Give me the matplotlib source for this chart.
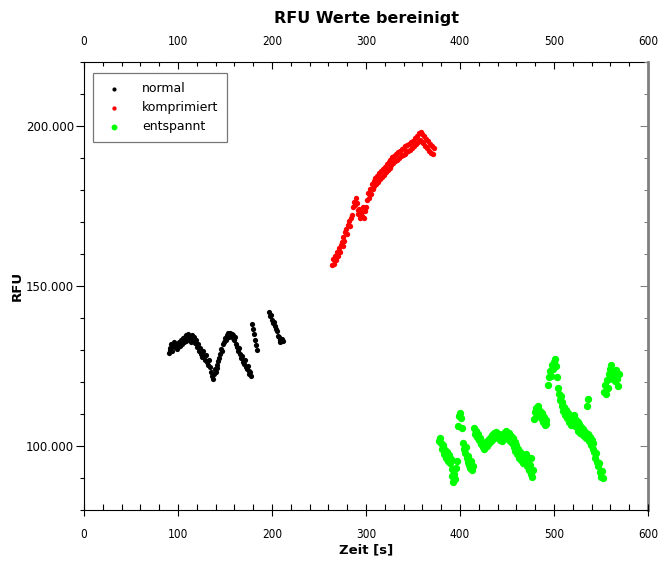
import matplotlib
matplotlib.use("Agg")
import matplotlib.pyplot as plt
from matplotlib.ticker import MultipleLocator, FuncFormatter

# RFU values (in thousands)
normal_t = [90, 91, 92, 93, 94, 95, 96, 97, 98, 99, 100, 101, 102, 103, 104, 105, 106, 107, 108, 109,
            110, 111, 112, 113, 114, 115, 116, 117, 118, 119, 120, 121, 122, 123, 124, 125, 126, 127, 128, 129,
            130, 131, 132, 133, 134, 135, 136, 137, 138, 139, 140, 141, 142, 143, 144, 145, 146, 147, 148, 149,
            150, 151, 152, 153, 154, 155, 156, 157, 158, 159, 160, 161, 162, 163, 164, 165, 166, 167, 168, 169,
            170, 171, 172, 173, 174, 175, 176, 177, 178,
            179, 180, 181, 182, 183, 184,
            197, 198, 199, 200, 201, 202, 203, 204, 205, 206, 207, 208, 209, 210, 211, 212]
normal_rfu = [129.0, 130.5, 130.0, 131.8, 129.6, 131.2, 132.4, 130.8, 131.5, 130.2, 131.0, 132.6, 131.4, 133.2,
              132.0, 133.8, 132.5, 134.0, 132.8, 134.6, 133.2, 135.0, 133.6, 134.2, 132.6, 134.8, 133.4, 134.0,
              132.2, 133.0, 131.0, 131.8, 129.8, 130.6, 128.6, 129.4, 127.8, 129.8, 128.0, 127.0, 128.4, 126.2,
              125.4, 126.8, 124.6, 123.2, 122.0, 121.0, 122.6, 124.0, 123.0, 125.2, 124.4, 126.6, 127.6, 128.8,
              130.4, 129.6, 131.8, 132.6, 133.8, 133.0, 134.6, 135.2, 134.0, 135.4, 134.6, 135.0, 133.8, 134.8,
              133.2, 134.0, 132.0, 131.0, 129.8, 130.6, 128.6, 127.6, 128.2, 126.4, 125.6, 126.8, 124.8, 124.0,
              125.0, 123.4, 122.4, 123.0, 121.8,
              138.0, 136.5, 135.0, 133.0, 131.5, 130.0,
              142.0, 140.5, 141.0, 139.5, 138.5, 138.8, 137.5, 136.5, 135.8, 134.5, 134.0, 133.0, 132.4, 132.8,
              133.4, 132.8]

kompr_t = [264, 265, 266, 267, 268, 269, 270, 271, 272, 273, 274, 275, 276, 277, 278, 279, 280, 281, 282, 283,
           284, 285, 286, 287, 288, 289, 290, 291, 292, 293, 294, 295, 296, 297, 298, 299, 300, 301, 302, 303,
           304, 305, 306, 307, 308, 309, 310, 311, 312, 313, 314, 315, 316, 317, 318, 319, 320, 321, 322, 323,
           324, 325, 326, 327, 328, 329, 330, 331, 332, 333, 334, 335, 336, 337, 338, 339, 340, 341, 342, 343,
           344, 345, 346, 347, 348, 349, 350, 351, 352, 353, 354, 355, 356, 357, 358, 359, 360, 361, 362, 363,
           364, 365, 366, 367, 368, 369, 370, 371, 372]
kompr_rfu = [156.5, 158.4, 157.0, 159.4, 158.2, 160.6, 159.4, 162.0, 160.6, 162.8, 163.8, 162.4, 165.4, 164.0,
             166.8, 167.8, 166.4, 169.0, 170.2, 168.6, 171.4, 172.2, 174.6, 176.4, 175.2, 177.6, 176.0, 173.8,
             172.6, 174.2, 171.4, 173.0, 172.0, 174.6, 171.2, 173.4, 174.6, 177.0, 179.0, 177.4, 180.4, 178.8,
             181.8, 180.2, 182.8, 181.2, 183.6, 181.8, 184.4, 182.6, 185.2, 183.4, 185.8, 184.2, 186.6, 184.8,
             187.2, 185.6, 188.0, 186.2, 188.6, 187.0, 189.4, 187.8, 190.2, 188.4, 190.6, 189.0, 191.2, 189.4,
             191.8, 190.0, 192.2, 190.6, 192.8, 191.0, 193.2, 191.4, 193.6, 191.8, 194.0, 192.2, 194.4, 192.6,
             195.0, 193.2, 195.4, 193.8, 196.4, 194.4, 197.0, 195.0, 197.8, 195.6, 198.2, 195.2, 197.6, 194.6,
             196.8, 193.8, 196.0, 193.0, 195.2, 192.2, 194.4, 191.6, 193.8, 191.2, 193.2]

entsp_t = [378, 379, 380, 381, 382, 383, 384, 385, 386, 387, 388, 389, 390, 391, 392, 393, 394, 395, 396, 397,
           398, 399, 400, 401, 402, 403, 404, 405, 406, 407, 408, 409, 410, 411, 412, 413, 414,
           415, 416, 417, 418, 419, 420, 421, 422, 423, 424, 425, 426, 427, 428, 429, 430, 431, 432, 433, 434,
           435, 436, 437, 438, 439, 440, 441, 442, 443, 444, 445, 446, 447, 448, 449, 450, 451, 452, 453, 454,
           455, 456, 457, 458, 459, 460, 461, 462, 463, 464, 465, 466, 467, 468, 469, 470, 471, 472, 473, 474,
           475, 476, 477, 478,
           479, 480, 481, 482, 483, 484, 485, 486, 487, 488, 489, 490, 491, 492,
           494, 495, 496, 497, 498, 499, 500, 501, 502, 503,
           504, 505, 506, 507, 508, 509, 510, 511, 512, 513, 514, 515, 516, 517, 518,
           519, 520, 521, 522, 523, 524, 525, 526, 527, 528, 529, 530, 531, 532, 533, 534, 535, 536, 536.5,
           537, 538, 539, 540, 541, 542, 543, 544, 545, 546, 547, 548, 549, 550, 551, 552,
           553, 554, 555, 556, 557, 558, 559, 560, 561, 562, 563, 564, 565, 566, 567, 568, 569]
entsp_rfu = [101.5, 102.6, 100.8, 99.2, 100.4, 97.6, 98.8, 96.2, 98.0, 95.4, 97.2, 94.6, 96.0, 92.8, 90.6,
             88.8, 91.4, 89.6, 93.0, 95.4,
             106.2, 109.4, 110.2, 108.6, 105.6, 100.8, 99.2, 97.8, 99.6, 96.4, 95.0, 97.0, 94.0, 93.2, 95.4,
             92.6, 93.8,
             105.6, 103.8, 104.6, 102.8, 103.6, 101.8, 102.4, 100.6, 101.4, 99.8, 100.6, 99.0, 100.4, 101.2,
             100.0, 102.0, 101.0, 102.6, 101.6, 103.4, 102.2, 104.0, 102.8, 104.4, 103.2, 103.8, 102.4, 103.6,
             102.0, 103.0, 101.6, 102.8, 104.2, 103.0, 104.6, 103.4, 102.2, 104.0, 101.6, 103.2, 100.8, 102.4,
             99.6, 101.2, 98.4, 100.2, 97.6, 99.0, 96.4, 98.2, 95.6, 97.6, 94.8, 96.8, 95.2, 97.4, 93.8, 95.6,
             92.6, 94.0, 96.2, 91.2, 90.2, 92.4,
             108.4, 110.6, 111.8, 109.6, 112.4, 110.2, 111.0, 108.8, 110.4, 107.4, 109.2, 106.6, 108.0, 107.0,
             119.0, 121.6, 123.4, 122.0, 125.2, 124.2, 126.4, 127.2, 125.0, 121.6,
             118.0, 116.2, 114.4, 115.6, 112.6, 113.8, 111.0, 112.2, 109.8, 111.4, 108.6, 110.4, 107.4, 109.2,
             106.6,
             108.6, 107.2, 109.6, 106.4, 108.2, 105.8, 107.6, 104.8, 106.8, 104.2, 106.0, 103.6, 105.2, 103.0,
             104.4, 102.4, 112.6, 103.8, 114.8,
             101.6, 102.8, 100.4, 101.8, 99.2, 100.8, 98.0, 96.4, 97.8, 95.0, 93.6, 94.8, 91.8, 90.4, 92.2, 90.0,
             117.0, 119.2, 116.4, 120.6, 118.0, 122.4, 121.0, 124.2, 125.4, 123.0, 121.6, 122.8, 120.2, 123.6,
             121.0, 118.6, 122.4]

x_ticks = [0, 100, 200, 300, 400, 500, 600]
y_ticks = [100000, 150000, 200000]


def de_thousands(v, pos):
    return f"{int(round(v)):,}".replace(",", ".")


fig = plt.figure(figsize=(6.58, 5.63), dpi=100)
ax = fig.add_axes([84 / 658, 53 / 563, 564 / 658, 448 / 563])

ax.scatter(normal_t, [v * 1000 for v in normal_rfu], s=14, color="black", linewidths=0, label="normal")
ax.scatter(kompr_t, [v * 1000 for v in kompr_rfu], s=15, color="#ff0000", linewidths=0, label="komprimiert")
ax.scatter(entsp_t, [v * 1000 for v in entsp_rfu], s=28, color="#00ff00", linewidths=0, label="entspannt")

ax.set_xlim(0, 600)
ax.set_ylim(80000, 220000)

# bottom / left axes
ax.set_xticks(x_ticks)
ax.xaxis.set_minor_locator(MultipleLocator(20))
ax.set_yticks(y_ticks)
ax.yaxis.set_minor_locator(MultipleLocator(10000))
ax.yaxis.set_major_formatter(FuncFormatter(de_thousands))
ax.tick_params(axis="x", which="major", direction="inout", length=8, width=0.8, labelsize=8.5, pad=9)
ax.tick_params(axis="x", which="minor", direction="in", length=4, width=0.8)
ax.tick_params(axis="y", which="major", direction="out", length=6, width=0.8, labelsize=8.5, pad=1)
ax.tick_params(axis="y", which="minor", direction="out", length=3, width=0.8)
for lab in ax.get_xticklabels():
    lab.set_fontstretch("condensed")
ax.spines["top"].set_visible(False)
ax.spines["right"].set_visible(False)

# top axis with labels, ticks pointing inward
top = ax.secondary_xaxis("top")
top.set_xticks(x_ticks)
top.xaxis.set_minor_locator(MultipleLocator(20))
top.tick_params(axis="x", which="major", direction="in", length=5, width=0.8, labelsize=8.5, pad=10)
top.tick_params(axis="x", which="minor", direction="in", length=3, width=0.8)
for lab in top.get_xticklabels():
    lab.set_fontstretch("condensed")

# right axis, grey, inward ticks, no labels
right = ax.secondary_yaxis("right")
right.set_yticks(y_ticks)
right.set_yticklabels([])
right.yaxis.set_minor_locator(MultipleLocator(10000))
right.tick_params(axis="y", which="major", direction="in", length=6, width=0.8, color="#808080")
right.tick_params(axis="y", which="minor", direction="in", length=3, width=0.8, color="#808080")
right.spines["right"].set_color("#808080")
right.spines["right"].set_linewidth(2)

ax.set_title("RFU Werte bereinigt", fontsize=11.5, fontweight="bold", pad=28)
ax.set_xlabel("Zeit [s]", fontsize=9.5, fontweight="bold", labelpad=2)
ax.set_ylabel("RFU", fontsize=9.5, fontweight="bold", labelpad=2)

leg = ax.legend(loc="upper left", bbox_to_anchor=(0.016, 0.975), frameon=True, fancybox=False,
                edgecolor="#555555", fontsize=9, handletextpad=1.2, borderpad=0.7,
                labelspacing=0.5, markerscale=0.8, borderaxespad=0)
leg.get_frame().set_linewidth(0.9)

fig.savefig("out.png", dpi=100)
